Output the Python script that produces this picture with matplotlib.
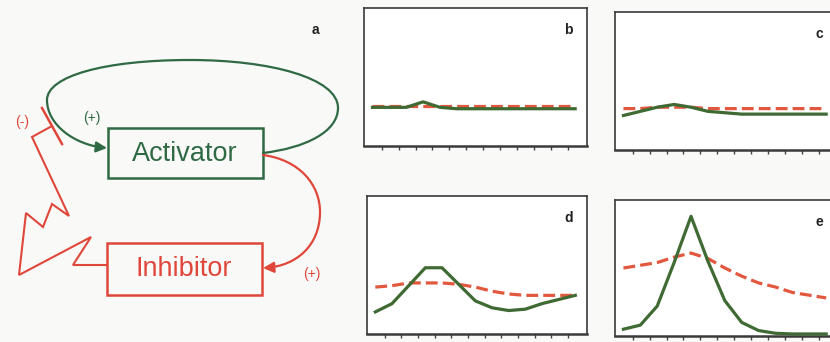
import numpy as np
import matplotlib
matplotlib.use("Agg")
import matplotlib.pyplot as plt
from matplotlib.patches import Rectangle, FancyArrowPatch
from matplotlib.path import Path

plt.rcParams['font.family'] = ['Liberation Sans', 'DejaVu Sans']

# profile data (13 positions along the tissue)
pos = np.arange(13)
b_act = [0.28, 0.28, 0.28, 0.32, 0.28, 0.27, 0.27, 0.27, 0.27, 0.27, 0.27, 0.27, 0.27]
b_inh = [0.29, 0.29, 0.29, 0.29, 0.29, 0.29, 0.29, 0.29, 0.29, 0.29, 0.29, 0.29, 0.29]
c_act = [0.25, 0.28, 0.31, 0.33, 0.31, 0.28, 0.27, 0.26, 0.26, 0.26, 0.26, 0.26, 0.26]
c_inh = [0.30, 0.30, 0.31, 0.31, 0.31, 0.30, 0.30, 0.30, 0.30, 0.30, 0.30, 0.30, 0.30]
d_act = [0.16, 0.22, 0.35, 0.48, 0.48, 0.36, 0.24, 0.19, 0.17, 0.18, 0.22, 0.25, 0.28]
d_inh = [0.34, 0.35, 0.37, 0.37, 0.37, 0.36, 0.34, 0.31, 0.29, 0.28, 0.28, 0.28, 0.28]
e_act = [0.05, 0.08, 0.22, 0.54, 0.88, 0.55, 0.26, 0.10, 0.04, 0.02, 0.015, 0.015, 0.015]
e_inh = [0.50, 0.52, 0.54, 0.58, 0.61, 0.57, 0.50, 0.44, 0.39, 0.36, 0.32, 0.30, 0.28]
panels = {'b': (b_act, b_inh), 'c': (c_act, c_inh), 'd': (d_act, d_inh), 'e': (e_act, e_inh)}

GREEN = '#3f6a33'
DGREEN = '#2f6a45'
RED = '#e0473b'
RED2 = '#e2583f'
BG = '#f9f9f7'

W, H = 830, 342
fig = plt.figure(figsize=(8.3, 3.42), dpi=100, facecolor=BG)

def px_axes(left, top, right, bottom):
    return fig.add_axes([left / W, 1 - bottom / H, (right - left) / W, (bottom - top) / H])

# ---- diagram (a) drawn in pixel units ----
ax = fig.add_axes([0, 0, 360 / W, 1])
ax.set_xlim(0, 360)
ax.set_ylim(342, 0)
ax.axis('off')

ax.add_patch(Rectangle((108, 128), 155, 50, fill=False, ec=DGREEN, lw=1.8))
ax.add_patch(Rectangle((107, 243), 155, 52, fill=False, ec=RED, lw=1.8))
ax.text(185, 154, 'Activator', color=DGREEN, fontsize=19.5, ha='center', va='center')
ax.text(184, 269, 'Inhibitor', color=RED, fontsize=19.5, ha='center', va='center')

# green self-activation loop
loop = Path([(263, 153), (305, 148), (338, 132), (338, 108),
             (338, 78), (270, 60), (190, 60),
             (105, 60), (47, 76), (47, 100),
             (47, 125), (75, 145), (107, 148)],
            [Path.MOVETO] + [Path.CURVE4] * 12)
ax.add_patch(FancyArrowPatch(path=loop, arrowstyle='-|>', mutation_scale=16,
                             color=DGREEN, lw=1.6))

# red activation of inhibitor
act2inh = Path([(263, 155), (300, 160), (320, 185), (320, 212),
                (320, 245), (297, 266), (263, 268)],
               [Path.MOVETO] + [Path.CURVE4] * 6)
ax.add_patch(FancyArrowPatch(path=act2inh, arrowstyle='-|>', mutation_scale=16,
                             color=RED, lw=1.6))

# zig-zag inhibition line with bar end
zx = [107, 73, 91, 19, 26, 43, 52, 69, 32, 52]
zy = [265, 265, 237, 275, 213, 227, 204, 216, 137, 126]
ax.plot(zx, zy, color=RED, lw=1.5, solid_joinstyle='miter')
ax.plot([42, 62], [108, 144], color=RED, lw=1.8)

ax.text(92, 118, '(+)', color=DGREEN, fontsize=10, ha='center', va='center')
ax.text(312, 274, '(+)', color=RED, fontsize=10, ha='center', va='center')
ax.text(22, 122, '(-)', color=RED, fontsize=10, ha='center', va='center')
ax.text(315, 30, 'a', color='#222', fontsize=10, fontweight='bold', ha='center', va='center')

# ---- profile panels ----
boxes = {'b': (364, 8, 587, 146), 'c': (615, 12, 838, 150),
         'd': (367, 196, 587, 334), 'e': (615, 200, 838, 336)}
for name, (act, inh) in panels.items():
    l, t, r, btm = boxes[name]
    axp = px_axes(l, t, r, btm)
    axp.set_facecolor('white')
    axp.plot(pos, inh, color=RED2, lw=2.3, ls='--', zorder=2)
    axp.plot(pos, act, color=GREEN, lw=2.3, zorder=3)
    axp.set_xlim(-0.5, 12.7)
    axp.set_ylim(0, 1)
    axp.set_xticks(np.arange(12) + 0.55)
    axp.set_yticks([])
    axp.tick_params(axis='x', direction='out', length=3, width=1, color='#444',
                    labelbottom=False)
    for s in axp.spines.values():
        s.set_color('#3a3a3a')
        s.set_linewidth(1.2)
    axp.spines['bottom'].set_linewidth(1.8)
    axp.text(0.915, 0.84, name, transform=axp.transAxes, fontsize=10,
             fontweight='bold', color='#222', ha='center', va='center')

fig.savefig('out.png', dpi=100, facecolor=BG)
